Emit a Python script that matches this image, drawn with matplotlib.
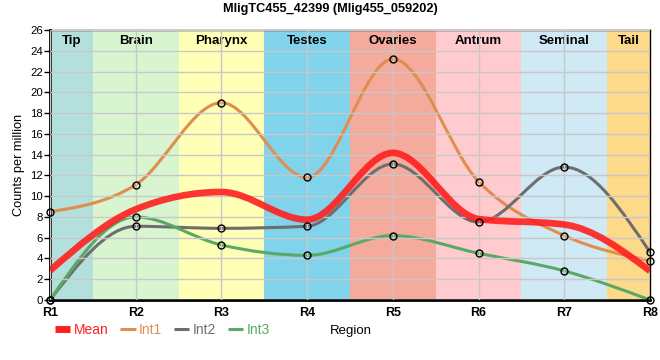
import numpy as np
import matplotlib
matplotlib.use("Agg")
import matplotlib.pyplot as plt
from matplotlib.path import Path
from matplotlib.patches import PathPatch
from matplotlib.lines import Line2D

plt.rcParams['font.family'] = ['Liberation Sans', 'DejaVu Sans']

# ── data ──────────────────────────────────────────────────────────────
regions = ["R1", "R2", "R3", "R4", "R5", "R6", "R7", "R8"]
tissues = ["Tip", "Brain", "Pharynx", "Testes", "Ovaries", "Antrum", "Seminal", "Tail"]
tissue_colors = ["#b3e0dc", "#d9f5d0", "#ffffb5", "#80d3eb",
                 "#f4aa9c", "#ffcbce", "#cfeaf4", "#fdd98a"]
int1 = [8.5, 11.1, 19.0, 11.8, 23.2, 11.4, 6.2, 3.8]
int2 = [0.0, 7.1, 6.9, 7.1, 13.1, 7.5, 12.8, 4.6]
int3 = [0.0, 8.0, 5.3, 4.3, 6.2, 4.5, 2.8, 0.0]
mean = list(np.mean([int1, int2, int3], axis=0))

C_MEAN, C_INT1, C_INT2, C_INT3 = "#ff1f1f", "#e08d50", "#6e6e6e", "#5aa865"


def monotone_path(xs, ys):
    # d3 curveMonotoneX as cubic Bezier segments
    xs = np.asarray(xs, float); ys = np.asarray(ys, float)
    n = len(xs)
    h = np.diff(xs); s = np.diff(ys) / h
    t = np.zeros(n)
    sg = lambda v: -1.0 if v < 0 else 1.0
    for i in range(1, n - 1):
        p = (s[i - 1] * h[i] + s[i] * h[i - 1]) / (h[i - 1] + h[i])
        t[i] = (sg(s[i - 1]) + sg(s[i])) * min(abs(s[i - 1]), abs(s[i]), 0.5 * abs(p))
    t[0] = (3 * s[0] - t[1]) / 2
    t[-1] = (3 * s[-1] - t[-2]) / 2
    verts = [(xs[0], ys[0])]; codes = [Path.MOVETO]
    for i in range(n - 1):
        d = h[i] / 3
        verts += [(xs[i] + d, ys[i] + d * t[i]),
                  (xs[i + 1] - d, ys[i + 1] - d * t[i + 1]),
                  (xs[i + 1], ys[i + 1])]
        codes += [Path.CURVE4] * 3
    return Path(verts, codes)


fig = plt.figure(figsize=(6.6, 3.6), dpi=100)
ax = fig.add_axes([50 / 660, 60 / 360, 600 / 660, 270 / 360])
x = np.arange(1, len(regions) + 1)

for i, (name, col) in enumerate(zip(tissues, tissue_colors)):
    ax.axvspan(x[i] - 0.5, x[i] + 0.5, color=col, lw=0, zorder=0)
    ax.text(x[i] if 0 < i < len(tissues) - 1 else (x[i] + (0.25 if i == 0 else -0.25)),
            24.9, name, ha="center", va="center", fontsize=9.5,
            fontweight="bold", zorder=1)

ax.set_xlim(1, 8)
ax.set_ylim(0, 26)
ax.set_yticks(np.arange(0, 27, 2))
ax.set_xticks(x)
ax.set_xticklabels(regions, fontweight="bold", fontsize=9)
ax.tick_params(axis="x", length=0, pad=5)
ax.tick_params(axis="y", length=4, width=1, labelsize=8.2, pad=1)
ax.grid(True, color="#c8c8c8", lw=1, zorder=0.5)
ax.set_axisbelow(False)
for side in ["left", "bottom"]:
    ax.spines[side].set_linewidth(2)
for side in ["top", "right"]:
    ax.spines[side].set_linewidth(1)
ax.set_ylabel("Counts per million", fontsize=9.2, labelpad=4)

for ys, col in [(int1, C_INT1), (int2, C_INT2), (int3, C_INT3)]:
    ax.add_patch(PathPatch(monotone_path(x, ys), fill=False, ec=col, lw=2.2,
                           capstyle="butt", zorder=2))
ax.add_patch(PathPatch(monotone_path(x, mean), fill=False, ec=C_MEAN, lw=4.8,
                       alpha=0.9, capstyle="butt", zorder=3))
for ys in (int1, int2, int3):
    ax.plot(x, ys, ls="none", marker="o", ms=5, mfc="none", mec="black",
            mew=1, zorder=4, clip_on=False)

handles = [Line2D([], [], color=C_MEAN, lw=5.0, solid_capstyle="butt"),
           Line2D([], [], color=C_INT1, lw=2.2, solid_capstyle="butt"),
           Line2D([], [], color=C_INT2, lw=2.2, solid_capstyle="butt"),
           Line2D([], [], color=C_INT3, lw=2.2, solid_capstyle="butt")]
leg = fig.legend(handles, ["Mean", "Int1", "Int2", "Int3"], ncol=4,
                 loc="center left", bbox_to_anchor=(55 / 660, 1 - 330 / 360),
                 frameon=False, fontsize=10, handlelength=1.1,
                 handletextpad=0.25, columnspacing=0.85, borderaxespad=0,
                 borderpad=0)
for txt, col in zip(leg.get_texts(), [C_MEAN, C_INT1, C_INT2, C_INT3]):
    txt.set_color(col)
fig.text(351 / 660, 1 - 331 / 360, "Region", ha="center", va="center", fontsize=9.5)

fig.text(0.5, 1 - 9 / 360, "MligTC455_42399 (Mlig455_059202)", ha="center",
         va="center", fontsize=9.2, fontweight="bold")

fig.savefig("out.png", dpi=100)
